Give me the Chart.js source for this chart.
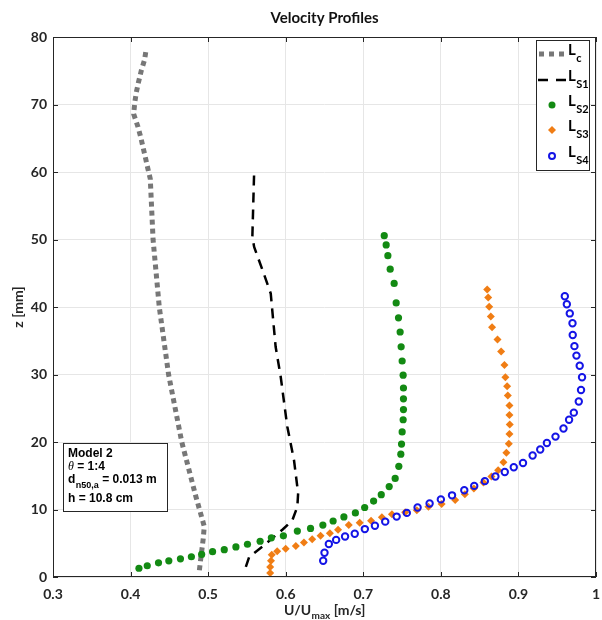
<!DOCTYPE html>
<html>
<head>
<meta charset="utf-8">
<script src="https://cdn.jsdelivr.net/npm/chart.js@4.4.1/dist/chart.umd.min.js"></script>
<style>
  html, body { margin: 0; padding: 0; background: #fff; }
  #wrap { width: 602px; height: 620px; }
</style>
</head>
<body>
<div id="wrap"><canvas id="grafico" width="602" height="620"></canvas></div>
<script>
// --- datos ---
const xTicks = [0.3, 0.4, 0.5, 0.6, 0.7, 0.8, 0.9, 1.0];
const xTickLabels = ["0.3", "0.4", "0.5", "0.6", "0.7", "0.8", "0.9", "1"];
const yTicks = [0, 10, 20, 30, 40, 50, 60, 70, 80];
const yTickLabels = ["0", "10", "20", "30", "40", "50", "60", "70", "80"];

// L_c (linea punteada gris)
const lcU = [0.4887, 0.4908, 0.4937, 0.495, 0.484, 0.466, 0.449, 0.437, 0.429, 0.4254, 0.4223, 0.4194, 0.413, 0.4095, 0.404, 0.4053, 0.4074, 0.4104, 0.4138, 0.418, 0.4203];
const lcZ = [1.0, 3.0, 5.7, 7.5, 12, 20, 30, 40, 50, 59.0, 60.5, 62.0, 65.2, 66.7, 68.6, 70.2, 71.8, 73.4, 75.0, 76.6, 78.3];

// L_S1 (linea segmentada negra)
const s1U = [0.5486, 0.553, 0.570, 0.5957, 0.6085, 0.615, 0.616, 0.6107, 0.602, 0.5935, 0.587, 0.5807, 0.570, 0.5593, 0.557, 0.5593];
const s1Z = [1.5, 3.0, 4.5, 7.0, 8.4, 10.4, 12.4, 17.3, 22.3, 29.7, 34.1, 42.0, 45.5, 48.9, 50.4, 60.0];

// L_S2 (puntos verdes)
const s2U = [0.4108, 0.4215, 0.436, 0.4493, 0.4643, 0.4784, 0.4916, 0.5057, 0.5208, 0.5358, 0.5507, 0.567, 0.5815, 0.597, 0.615, 0.632, 0.6479, 0.6611, 0.675, 0.6898, 0.7018, 0.7133, 0.7232, 0.7334, 0.7411, 0.7458, 0.7484, 0.7493, 0.7501, 0.7514, 0.7518, 0.7518, 0.7518, 0.7514, 0.7501, 0.7488, 0.7475, 0.7454, 0.7424, 0.7398, 0.7347, 0.7317, 0.7295, 0.727];
const s2Z = [1.3, 1.67, 2.1, 2.4, 2.7, 3.0, 3.35, 3.75, 4.05, 4.45, 4.85, 5.3, 5.8, 6.1, 6.8, 7.2, 7.7, 8.3, 8.9, 9.5, 10.3, 11.25, 12.2, 13.4, 14.6, 16.4, 18.2, 19.7, 21.5, 23.3, 24.8, 26.4, 28.0, 29.9, 32.0, 34.1, 36.3, 38.4, 40.6, 43.5, 45.6, 47.6, 49.2, 50.56];

// L_S3 (rombos naranjas)
const s3U = [0.580, 0.580, 0.581, 0.582, 0.589, 0.600, 0.613, 0.6235, 0.6341, 0.6449, 0.6569, 0.6675, 0.6813, 0.6954, 0.710, 0.724, 0.7369, 0.754, 0.769, 0.784, 0.801, 0.8185, 0.831, 0.8426, 0.8549, 0.8652, 0.8738, 0.8807, 0.8845, 0.8876, 0.8884, 0.8888, 0.8884, 0.8884, 0.8863, 0.8854, 0.8832, 0.882, 0.8777, 0.873, 0.866, 0.8644, 0.8623, 0.861, 0.8597];
const s3Z = [0.6, 1.5, 2.4, 3.3, 3.8, 4.2, 4.6, 5.1, 5.6, 6.1, 6.5, 7.0, 7.7, 8.05, 8.35, 8.85, 9.3, 9.6, 9.9, 10.4, 10.8, 11.4, 12.25, 13.1, 14.0, 14.9, 15.8, 17.0, 18.4, 19.75, 21.2, 22.6, 24.0, 25.4, 26.9, 28.25, 29.6, 31.4, 33.4, 35.2, 37.0, 38.6, 40.05, 41.4, 42.6];

// L_S4 (circulos azules)
const s4U = [0.6483, 0.650, 0.6556, 0.665, 0.6765, 0.689, 0.702, 0.715, 0.7283, 0.743, 0.7561, 0.770, 0.7855, 0.800, 0.8144, 0.8302, 0.843, 0.8567, 0.8703, 0.8824, 0.894, 0.9059, 0.9183, 0.9281, 0.9367, 0.9478, 0.9581, 0.9653, 0.9714, 0.9778, 0.9807, 0.982, 0.979, 0.9748, 0.9722, 0.970, 0.9697, 0.9662, 0.9624, 0.9598];
const s4Z = [2.4, 3.6, 4.9, 5.5, 6.0, 6.4, 7.1, 7.6, 8.2, 8.95, 9.5, 10.3, 10.9, 11.5, 12.1, 12.85, 13.5, 14.2, 14.9, 15.55, 16.25, 16.9, 18.0, 18.9, 19.85, 20.8, 22.0, 23.3, 24.35, 26.0, 27.7, 29.6, 31.3, 32.8, 34.2, 35.85, 37.6, 39.05, 40.4, 41.6];

const FUENTE = "Lato, 'Open Sans', sans-serif";
const GRIS = "#777777";
const VERDE = "#138a13";
const NARANJA = "#f07d14";
const AZUL = "#1414e6";

function puntos(us, zs) {
  return us.map((u, i) => ({ x: u, y: zs[i] }));
}

// texto con subindice
function textoSub(ctx, x, y, base, sub, fBase, fSub, dy) {
  ctx.font = fBase;
  ctx.fillText(base, x, y);
  let w = ctx.measureText(base).width;
  ctx.font = fSub;
  ctx.fillText(sub, x + w + 0.5, y + dy);
  return x + w + 0.5 + ctx.measureText(sub).width;
}

const decoracion = {
  id: "decoracion",
  afterDraw(chart) {
    const { ctx, chartArea: a, scales } = chart;
    const sx = scales.x, sy = scales.y;
    ctx.save();
    ctx.fillStyle = "#000";
    ctx.strokeStyle = "#262626";
    ctx.lineWidth = 1;

    // marco y ticks hacia adentro
    ctx.beginPath();
    xTicks.forEach((v) => {
      const p = Math.round(sx.getPixelForValue(v)) + 0.5;
      ctx.moveTo(p, a.bottom); ctx.lineTo(p, a.bottom - 5);
      ctx.moveTo(p, a.top); ctx.lineTo(p, a.top + 5);
    });
    yTicks.forEach((v) => {
      const p = Math.round(sy.getPixelForValue(v)) + 0.5;
      ctx.moveTo(a.left, p); ctx.lineTo(a.left + 5, p);
      ctx.moveTo(a.right, p); ctx.lineTo(a.right - 5, p);
    });
    ctx.stroke();
    ctx.strokeRect(Math.round(a.left) + 0.5, Math.round(a.top) + 0.5, Math.round(a.width) - 1, Math.round(a.height) - 1);

    // titulo
    ctx.fillStyle = "#111";
    ctx.font = "bold 15px " + FUENTE;
    ctx.textAlign = "center";
    ctx.textBaseline = "middle";
    ctx.fillText("Velocity Profiles", (a.left + a.right) / 2, 18);

    // titulo eje y
    ctx.save();
    ctx.translate(18, (a.top + a.bottom) / 2);
    ctx.rotate(-Math.PI / 2);
    ctx.font = "bold 14px " + FUENTE;
    ctx.fillStyle = "#262626";
    ctx.fillText("z [mm]", 0, 0);
    ctx.restore();

    // titulo eje x con subindice
    ctx.textAlign = "left";
    ctx.textBaseline = "alphabetic";
    ctx.fillStyle = "#262626";
    const fb = "bold 14px " + FUENTE, fs = "bold 10px " + FUENTE;
    ctx.font = fb;
    let w1 = ctx.measureText("U/U").width;
    let w3 = ctx.measureText(" [m/s]").width;
    ctx.font = fs;
    let w2 = ctx.measureText("max").width;
    let x0 = (a.left + a.right) / 2 - (w1 + w2 + w3) / 2;
    let xe = textoSub(ctx, x0, 615, "U/U", "max", fb, fs, 4);
    ctx.font = fb;
    ctx.fillText(" [m/s]", xe, 615);

    // cuadro de anotacion
    ctx.fillStyle = "#fff";
    ctx.fillRect(63.5, 443.5, 104, 68);
    ctx.strokeRect(63.5, 443.5, 104, 68);
    ctx.fillStyle = "#000";
    const fa = "bold 12px 'Liberation Sans', Arial, sans-serif";
    ctx.font = fa;
    ctx.fillText("Model 2", 68, 457);
    ctx.font = "italic 12px 'Liberation Serif', serif";
    ctx.fillText("\u03b8", 68, 470);
    let wt = ctx.measureText("\u03b8").width;
    ctx.font = fa;
    ctx.fillText(" = 1:4", 68 + wt, 470);
    let xd = textoSub(ctx, 68, 483, "d", "n50,a", fa, "bold 9px 'Liberation Sans', Arial, sans-serif", 5);
    ctx.font = fa;
    ctx.fillText(" = 0.013 m", xd, 483);
    ctx.fillText("h = 10.8 cm", 68, 502);

    // leyenda
    const lx = 536.5, ly = 40.5, lw = 53, lh = 130;
    ctx.fillStyle = "#fff";
    ctx.fillRect(lx, ly, lw, lh);
    ctx.strokeStyle = "#262626";
    ctx.lineWidth = 1;
    ctx.strokeRect(lx, ly, lw, lh);

    const entradas = [
      { sub: "c", y: 54 },
      { sub: "S1", y: 80 },
      { sub: "S2", y: 105 },
      { sub: "S3", y: 130 },
      { sub: "S4", y: 156 },
    ];
    // muestras
    ctx.save();
    ctx.lineCap = "butt";
    ctx.strokeStyle = GRIS; ctx.lineWidth = 5; ctx.setLineDash([5, 5]);
    ctx.beginPath(); ctx.moveTo(539, 54); ctx.lineTo(565, 54); ctx.stroke();
    ctx.strokeStyle = "#000"; ctx.lineWidth = 2.5; ctx.setLineDash([10, 8]);
    ctx.beginPath(); ctx.moveTo(538, 80); ctx.lineTo(567, 80); ctx.stroke();
    ctx.setLineDash([]);
    ctx.fillStyle = VERDE;
    ctx.beginPath(); ctx.arc(552, 105, 3.5, 0, Math.PI * 2); ctx.fill();
    ctx.fillStyle = NARANJA;
    ctx.beginPath(); ctx.moveTo(552, 126); ctx.lineTo(556, 130); ctx.lineTo(552, 134); ctx.lineTo(548, 130); ctx.closePath(); ctx.fill();
    ctx.strokeStyle = AZUL; ctx.lineWidth = 2;
    ctx.beginPath(); ctx.arc(552, 156, 3, 0, Math.PI * 2); ctx.stroke();
    ctx.restore();

    ctx.fillStyle = "#000";
    entradas.forEach((e) => {
      textoSub(ctx, 568, e.y + 1, "L", e.sub, "bold 15px " + FUENTE, "bold 11px " + FUENTE, 7);
    });
    ctx.restore();
  },
};

const ctx = document.getElementById("grafico").getContext("2d");

new Chart(ctx, {
  type: "scatter",
  data: {
    datasets: [
      {
        label: "Lc",
        data: puntos(lcU, lcZ),
        showLine: true,
        borderColor: GRIS,
        borderWidth: 5,
        borderDash: [5, 4],
        borderCapStyle: "butt",
        pointRadius: 0,
        tension: 0,
        order: 4,
      },
      {
        label: "LS1",
        data: puntos(s1U, s1Z),
        showLine: true,
        borderColor: "#000",
        borderWidth: 2.5,
        borderDash: [10, 7],
        pointRadius: 0,
        tension: 0,
        order: 3,
      },
      {
        label: "LS2",
        data: puntos(s2U, s2Z),
        pointStyle: "circle",
        pointRadius: 3.6,
        backgroundColor: VERDE,
        borderColor: VERDE,
        borderWidth: 0,
        order: 2,
      },
      {
        label: "LS3",
        data: puntos(s3U, s3Z),
        pointStyle: "rectRot",
        pointRadius: 4,
        backgroundColor: NARANJA,
        borderColor: NARANJA,
        borderWidth: 0,
        order: 1,
      },
      {
        label: "LS4",
        data: puntos(s4U, s4Z),
        pointStyle: "circle",
        pointRadius: 3.2,
        backgroundColor: "rgba(255,255,255,0)",
        borderColor: AZUL,
        borderWidth: 2,
        order: 0,
      },
    ],
  },
  options: {
    responsive: false,
    animation: false,
    devicePixelRatio: 1,
    layout: { padding: { top: 37, right: 4, left: 0, bottom: 0 } },
    plugins: {
      legend: { display: false },
      tooltip: { enabled: false },
      title: { display: false },
    },
    scales: {
      x: {
        type: "linear",
        min: 0.3,
        max: 1,
        afterBuildTicks: (s) => { s.ticks = xTicks.map((v) => ({ value: v })); },
        afterFit: (s) => { s.height = 43; s.paddingLeft = 0; s.paddingRight = 0; },
        ticks: {
          callback: (v) => xTickLabels[xTicks.findIndex((t) => Math.abs(t - v) < 1e-6)],
          font: { family: FUENTE, size: 14, weight: "bold" },
          color: "#262626",
          padding: 9,
          maxRotation: 0,
          autoSkip: false,
        },
        grid: { color: "#e6e6e6", drawTicks: false },
        border: { display: false },
      },
      y: {
        type: "linear",
        min: 0,
        max: 80,
        afterBuildTicks: (s) => { s.ticks = yTicks.map((v) => ({ value: v })); },
        afterFit: (s) => { s.width = 53; s.paddingTop = 0; s.paddingBottom = 0; },
        ticks: {
          callback: (v) => yTickLabels[yTicks.indexOf(v)],
          font: { family: FUENTE, size: 14, weight: "bold" },
          color: "#262626",
          padding: 6,
          autoSkip: false,
        },
        grid: { color: "#e6e6e6", drawTicks: false },
        border: { display: false },
      },
    },
  },
  plugins: [decoracion],
});
</script>
</body>
</html>
